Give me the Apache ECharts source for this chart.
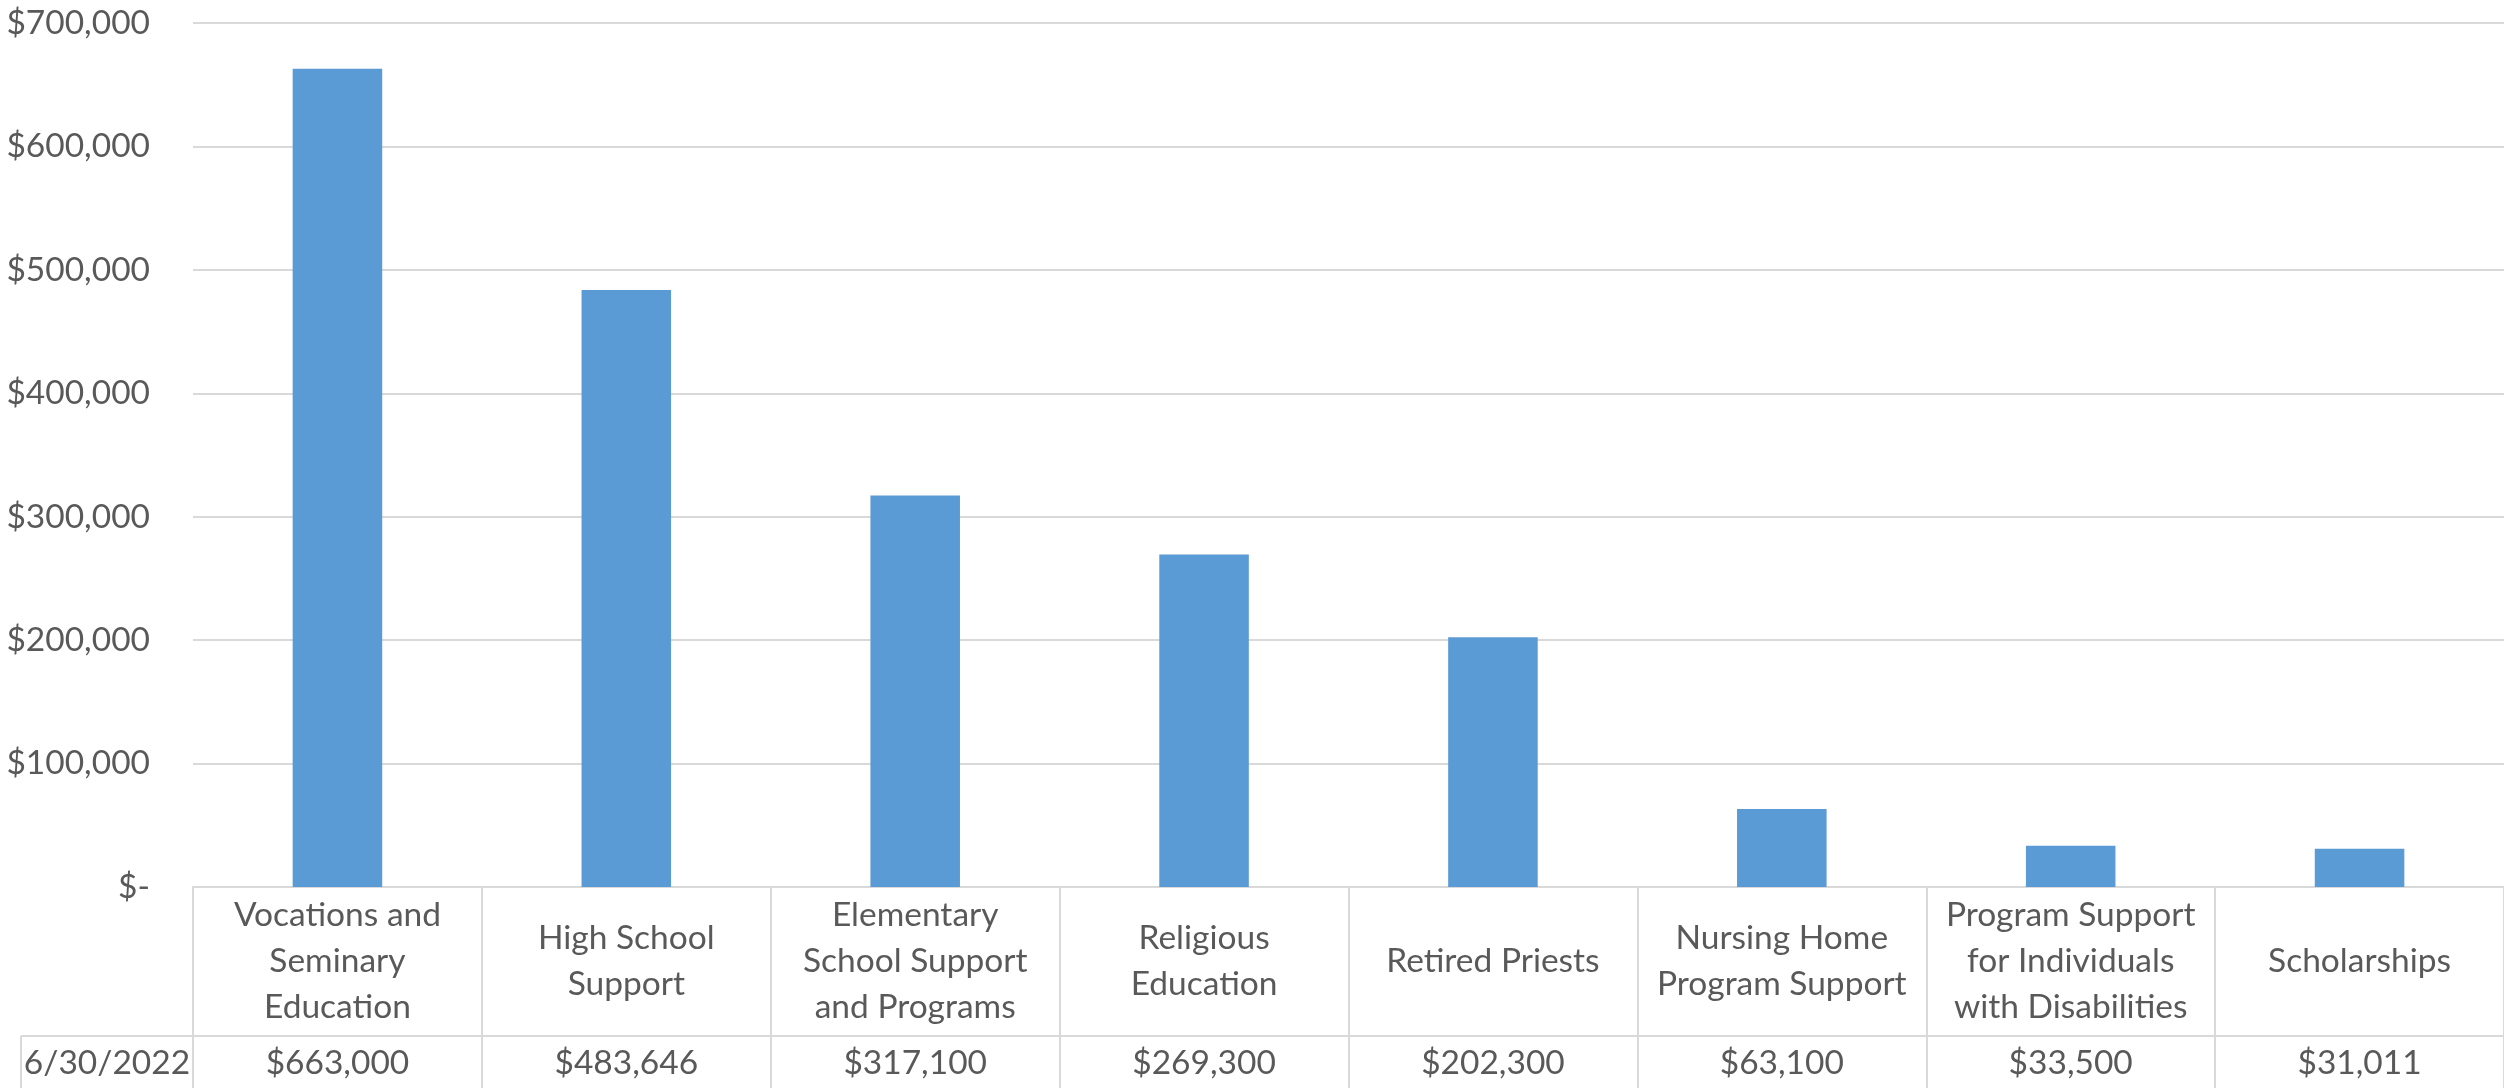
<!DOCTYPE html>
<html>
<head>
<meta charset="utf-8">
<script src="https://cdn.jsdelivr.net/npm/echarts@6/dist/echarts.min.js"></script>
<style>
html,body{margin:0;padding:0;background:#fff;}
#chart{width:2504px;height:1088px;}
</style>
</head>
<body>
<div id="chart"></div>
<script>
const categories = [
  "Vocations and\nSeminary\nEducation",
  "High School\nSupport",
  "Elementary\nSchool Support\nand Programs",
  "Religious\nEducation",
  "Retired Priests",
  "Nursing Home\nProgram Support",
  "Program Support\nfor Individuals\nwith Disabilities",
  "Scholarships"
];
const seriesName = "6/30/2022";
const values = [663000, 483646, 317100, 269300, 202300, 63100, 33500, 31011];
const yTicks = [0, 100000, 200000, 300000, 400000, 500000, 600000, 700000];

const TEXT = '#595959';
const LINE = '#D9D9D9';
const FONT = 'Lato';
const FS = 33.5;

const gridLeft = 193, gridTop = 23, gridWidth = 2312, gridHeight = 864;
const zeroY = gridTop + gridHeight;       // 887
const rowY = 1036;                        // table row divider
const tableLeft = 21;

function money(v){
  if (v === 0) return '$-';
  return '$' + v.toString().replace(/\B(?=(\d{3})+(?!\d))/g, ',');
}

const chart = echarts.init(document.getElementById('chart'));
chart.setOption({
  backgroundColor: '#fff',
  animation: false,
  textStyle: {fontFamily: FONT},
  grid: {left: gridLeft, top: gridTop, width: gridWidth, height: gridHeight, containLabel: false},
  xAxis: [
    {
      type: 'category',
      data: categories,
      boundaryGap: true,
      axisLine: {show: true, lineStyle: {color: LINE, width: 2}},
      axisTick: {show: true, interval: 0, alignWithLabel: false, length: 1088 - zeroY + 10, lineStyle: {color: LINE, width: 2}},
      axisLabel: {
        interval: 0, margin: (rowY - zeroY) / 2, verticalAlign: 'middle',
        color: TEXT, fontFamily: FONT, fontSize: FS, lineHeight: 46, align: 'center'
      },
      splitLine: {show: false}
    },
    {
      type: 'category',
      position: 'bottom',
      data: values.map(money),
      boundaryGap: true,
      axisLine: {show: false},
      axisTick: {show: false},
      axisLabel: {
        interval: 0, margin: 1063 - zeroY, verticalAlign: 'middle',
        color: TEXT, fontFamily: FONT, fontSize: FS, align: 'center'
      },
      splitLine: {show: false}
    }
  ],
  yAxis: {
    type: 'value',
    min: yTicks[0],
    max: yTicks[yTicks.length - 1],
    interval: yTicks[1] - yTicks[0],
    axisLine: {show: false},
    axisTick: {show: false},
    axisLabel: {
      margin: 43, color: TEXT, fontFamily: FONT, fontSize: FS,
      formatter: money
    },
    splitLine: {show: true, lineStyle: {color: LINE, width: 2}}
  },
  series: [{
    name: seriesName,
    type: 'bar',
    xAxisIndex: 0,
    data: values,
    barWidth: '31%',
    itemStyle: {color: '#5B9BD5'}
  }],
  graphic: [
    {
      type: 'line', silent: true,
      shape: {x1: tableLeft, y1: rowY, x2: 2504, y2: rowY},
      style: {stroke: LINE, lineWidth: 2}
    },
    {
      type: 'line', silent: true,
      shape: {x1: tableLeft, y1: rowY, x2: tableLeft, y2: 1100},
      style: {stroke: LINE, lineWidth: 2}
    },
    {
      type: 'text', silent: true,
      x: (tableLeft + gridLeft) / 2, y: 1063,
      style: {text: seriesName, fill: TEXT, font: FS + 'px ' + FONT, textAlign: 'center', textVerticalAlign: 'middle'}
    }
  ]
});
</script>
</body>
</html>
